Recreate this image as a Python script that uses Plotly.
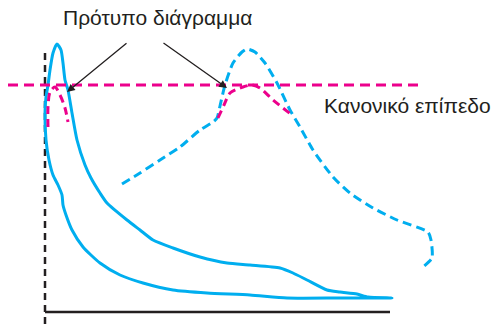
import plotly.graph_objects as go

# Diagram coordinates (image-like units: x right, y down)
loop_x = [392, 340, 287, 250, 207, 173, 143, 120, 100, 83, 72, 66, 63, 62, 58, 53, 49, 46, 45, 46, 48, 50, 53, 57,
          61, 63, 65, 68, 72, 77, 85, 91, 100, 107, 127, 140, 153, 173, 200, 227, 250, 280, 293, 307, 327, 340, 357, 368, 392]
loop_y = [298, 298, 298, 295, 293, 290, 283, 275, 263, 247, 230, 215, 205, 195, 185, 175, 160, 140, 113, 97, 85, 70, 53, 44,
          50, 63, 80, 90, 113, 140, 165, 178, 193, 203, 220, 230, 240, 248, 257, 263, 265, 268, 273, 280, 290, 292, 294, 297, 298]

dash_x = [122, 140, 160, 180, 200, 213, 217, 220, 225, 233, 242, 247, 255, 265, 277, 290, 300, 313, 333, 350, 373, 397, 428, 431, 432, 423]
dash_y = [184, 173, 160, 147, 130, 122, 118, 106, 85, 63, 52, 49, 52, 63, 83, 110, 127, 150, 177, 193, 208, 220, 232, 240, 258, 267]

pattern_r_x = [218, 224, 230, 243, 252, 260, 273, 292]
pattern_r_y = [118, 105, 93, 87, 85, 88, 100, 115]
pattern_l_x = [48, 48, 50, 55, 60, 65, 68]
pattern_l_y = [127, 107, 92, 87, 95, 108, 122]

normal_x = [8, 418]
normal_y = [85, 85]
axis_v_x = [45, 45]
axis_v_y = [53, 324]
axis_h_x = [45, 390]
axis_h_y = [312, 312]

title_text = "Πρότυπο διάγραμμα"
level_text = "Κανονικό επίπεδο"

BLUE = "#00AEEF"
MAG = "#EC008C"
BLK = "#231F20"

fig = go.Figure()
fig.add_trace(go.Scatter(x=axis_v_x, y=axis_v_y, mode="lines",
                         line=dict(color=BLK, width=2.5, dash="7px,5px")))
fig.add_trace(go.Scatter(x=axis_h_x, y=axis_h_y, mode="lines",
                         line=dict(color=BLK, width=2.5)))
fig.add_trace(go.Scatter(x=loop_x, y=loop_y, mode="lines",
                         line=dict(color=BLUE, width=3, shape="spline", smoothing=0.6)))
fig.add_trace(go.Scatter(x=dash_x, y=dash_y, mode="lines",
                         line=dict(color=BLUE, width=3, dash="9px,5px", shape="spline", smoothing=0.6)))
fig.add_trace(go.Scatter(x=normal_x, y=normal_y, mode="lines",
                         line=dict(color=MAG, width=3, dash="10px,6px")))
fig.add_trace(go.Scatter(x=pattern_l_x, y=pattern_l_y, mode="lines",
                         line=dict(color=MAG, width=3, dash="8px,5px", shape="spline", smoothing=0.8)))
fig.add_trace(go.Scatter(x=pattern_r_x, y=pattern_r_y, mode="lines",
                         line=dict(color=MAG, width=3, dash="8px,5px", shape="spline", smoothing=0.8)))

font = dict(family="Liberation Sans, Arial, sans-serif", size=21, color=BLK)
fig.add_annotation(x=61, y=17, text=title_text, showarrow=False, xanchor="left", yanchor="middle", font=font)
fig.add_annotation(x=322, y=105, text=level_text, showarrow=False, xanchor="left", yanchor="middle", font=font)

for tip, tail in [((67, 92), (128, 42)), ((227, 88), (162, 42))]:
    fig.add_annotation(x=tip[0], y=tip[1], ax=tail[0], ay=tail[1], axref="x", ayref="y",
                       xref="x", yref="y", text="", showarrow=True,
                       arrowhead=2, arrowsize=1.2, arrowwidth=1.3, arrowcolor=BLK)

fig.update_layout(width=495, height=324, margin=dict(l=0, r=0, t=0, b=0),
                  plot_bgcolor="white", paper_bgcolor="white", showlegend=False,
                  hovermode=False)
fig.update_xaxes(range=[0, 495], visible=False)
fig.update_yaxes(range=[324, 0], visible=False)
fig.write_html("out.html", config={"displayModeBar": False, "staticPlot": True},
               post_script="document.body.style.margin='0';document.body.style.overflow='hidden';")
